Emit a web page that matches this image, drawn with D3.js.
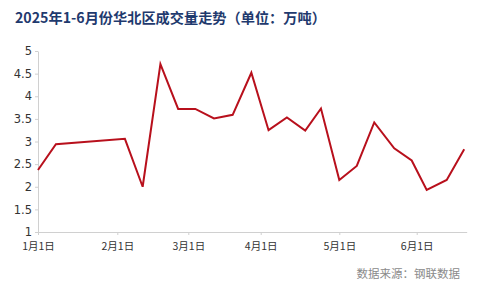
<!DOCTYPE html>
<html><head><meta charset="utf-8">
<script src="https://cdn.jsdelivr.net/npm/d3@7"></script>
<style>body{margin:0;background:#fff}svg{display:block}</style>
</head><body><svg id="c" width="480" height="288"></svg>
<script>
const dates = ["2025-01-01","2025-01-08","2025-02-04","2025-02-11","2025-02-18","2025-02-25","2025-03-04","2025-03-12","2025-03-20","2025-03-28","2025-04-04","2025-04-11","2025-04-18","2025-04-24","2025-05-01","2025-05-08","2025-05-15","2025-05-23","2025-05-30","2025-06-05","2025-06-13","2025-06-20"];
const values = [2.37,2.94,3.06,2.00,4.71,3.72,3.72,3.51,3.59,4.52,3.25,3.53,3.24,3.73,2.15,2.46,3.42,2.85,2.58,1.93,2.15,2.83];
const monthTicks = ["2025-01-01","2025-02-01","2025-03-01","2025-04-01","2025-05-01","2025-06-01"];
const monthLabels = ["1月1日","2月1日","3月1日","4月1日","5月1日","6月1日"];
const yTicks = [1,1.5,2,2.5,3,3.5,4,4.5,5];
const title = "2025年1-6月份华北区成交量走势（单位：万吨）";
const source = "数据来源：钢联数据";

const parse = d3.timeParse("%Y-%m-%d");
const svg = d3.select("#c");
const font = "'Noto Sans CJK SC', 'Noto Sans', sans-serif";

const x = d3.scaleTime()
  .domain([...monthTicks.map(parse), parse("2025-06-21")])
  .range([38, 117.3, 188.3, 260.7, 339.3, 416.7, 466.7]);
const y = d3.scaleLinear().domain([1,5]).range([232,51]);

svg.append("text").attr("x",15).attr("y",23).text(title)
  .attr("font-family",font).attr("font-weight","bold").attr("font-size",14.2).attr("fill","#1f3a6e");

const xa = svg.append("g").attr("transform","translate(0,232)")
  .call(d3.axisBottom(x).tickValues(monthTicks.map(parse)).tickFormat((d,i)=>monthLabels[i]).tickSize(3).tickSizeOuter(0));
xa.select(".domain").attr("stroke","#d0d0d0");
xa.selectAll(".tick line").attr("stroke","#d0d0d0");
xa.selectAll(".tick text").attr("fill","#333").attr("font-size",10.5).attr("font-family",font).attr("y",9).attr("dy","0.85em");

const ya = svg.append("g").attr("transform","translate(38,0)")
  .call(d3.axisLeft(y).tickValues(yTicks).tickFormat(d=>String(d)).tickSize(3).tickSizeOuter(0));
ya.select(".domain").attr("stroke","#d0d0d0");
ya.selectAll(".tick line").attr("stroke","#d0d0d0");
ya.selectAll(".tick text").attr("fill","#333").attr("font-size",11.5).attr("font-family","'DejaVu Sans', sans-serif").attr("x",-6);

const line = d3.line().x((d,i)=>x(parse(dates[i]))).y(d=>y(d));
svg.append("path").datum(values).attr("d",line)
  .attr("fill","none").attr("stroke","#b8101c").attr("stroke-width",2).attr("stroke-linejoin","miter");

svg.append("text").attr("x",460).attr("y",278).attr("text-anchor","end").text(source)
  .attr("font-family",font).attr("font-size",11.5).attr("fill","#8a8a8a");
</script></body></html>
